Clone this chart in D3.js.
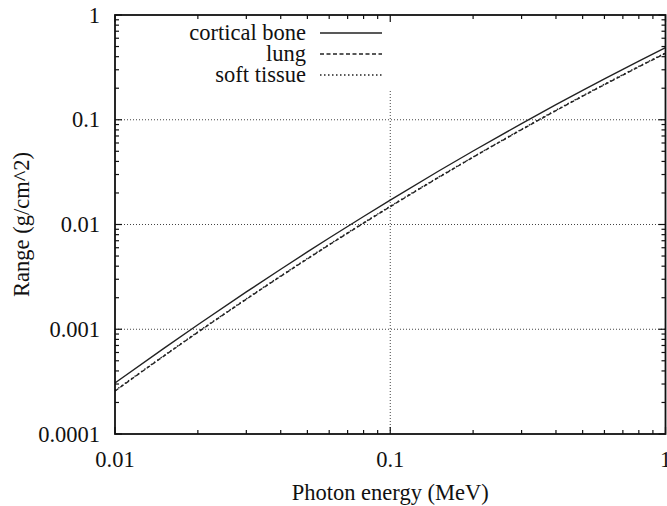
<!DOCTYPE html>
<meta charset="utf-8">
<style>
body { margin: 0; background: #fff; }
svg { font-family: "Liberation Serif", "Times New Roman", serif; }
.axis-label { font-size: 22.5px; fill: #111; }
</style>
<body>
<svg width="667" height="506"></svg>
<script src="https://d3js.org/d3.v7.min.js"></script>
<script>
// photon energy (MeV)
var energy = [0.01, 0.015, 0.02, 0.03, 0.04, 0.05, 0.06, 0.08, 0.1,
              0.15, 0.2, 0.3, 0.4, 0.5, 0.6, 0.8, 1.0];

// range (g/cm^2)
var corticalBone = [3.07e-4, 6.54e-4, 1.104e-3, 2.272e-3, 3.74e-3, 5.47e-3, 7.43e-3, 0.01192, 0.0171,
                    0.0324, 0.0503, 0.0919, 0.1393, 0.1909, 0.2457, 0.3628, 0.4875];
var lung = [2.57e-4, 5.51e-4, 9.35e-4, 1.934e-3, 3.20e-3, 4.69e-3, 6.39e-3, 0.01029, 0.01479,
            0.02814, 0.0438, 0.0804, 0.1222, 0.1677, 0.2162, 0.3200, 0.4305];
var softTissue = [2.60e-4, 5.56e-4, 9.44e-4, 1.953e-3, 3.23e-3, 4.74e-3, 6.45e-3, 0.01039, 0.01494,
                  0.02842, 0.0442, 0.0812, 0.1234, 0.1694, 0.2184, 0.3232, 0.4348];

var seriesNames = ["cortical bone", "lung", "soft tissue"];
var xTicks = [0.01, 0.1, 1];
var yTicks = [0.0001, 0.001, 0.01, 0.1, 1];
var xTickLabels = ["0.01", "0.1", "1"];
var yTickLabels = ["0.0001", "0.001", "0.01", "0.1", "1"];

var svg = d3.select("svg");
var plotLeft = 115, plotRight = 665.5, plotTop = 15, plotBottom = 434;

var x = d3.scaleLog().domain([0.01, 1]).range([plotLeft, plotRight]);
var y = d3.scaleLog().domain([0.0001, 1]).range([plotBottom, plotTop]);

var dashes = [null, "4,2.5", "1.5,2.5"];
var series = [corticalBone, lung, softTissue];

// grid (dotted), vertical one stops below the key
var grid = svg.append("g")
    .attr("stroke", "#444")
    .attr("stroke-width", 1)
    .attr("stroke-dasharray", "1,2");
[0.001, 0.01, 0.1].forEach(function(v) {
  grid.append("line")
      .attr("x1", plotLeft).attr("x2", plotRight)
      .attr("y1", y(v)).attr("y2", y(v));
});
grid.append("line")
    .attr("x1", x(0.1)).attr("x2", x(0.1))
    .attr("y1", plotBottom).attr("y2", 90);

// minor + major ticks on all four sides
function minors(lo, hi) {
  var out = [];
  for (var e = lo; e < hi; e++)
    for (var m = 2; m <= 9; m++) out.push(m * Math.pow(10, e));
  return out;
}
var ticks = svg.append("g").attr("stroke", "#111").attr("stroke-width", 1.2);
minors(-2, 0).forEach(function(v) {
  ticks.append("line").attr("x1", x(v)).attr("x2", x(v)).attr("y1", plotBottom).attr("y2", plotBottom - 4);
  ticks.append("line").attr("x1", x(v)).attr("x2", x(v)).attr("y1", plotTop).attr("y2", plotTop + 4);
});
xTicks.forEach(function(v) {
  ticks.append("line").attr("x1", x(v)).attr("x2", x(v)).attr("y1", plotBottom).attr("y2", plotBottom - 7);
  ticks.append("line").attr("x1", x(v)).attr("x2", x(v)).attr("y1", plotTop).attr("y2", plotTop + 7);
});
minors(-4, 0).forEach(function(v) {
  ticks.append("line").attr("y1", y(v)).attr("y2", y(v)).attr("x1", plotLeft).attr("x2", plotLeft + 4);
  ticks.append("line").attr("y1", y(v)).attr("y2", y(v)).attr("x1", plotRight).attr("x2", plotRight - 4);
});
yTicks.forEach(function(v) {
  ticks.append("line").attr("y1", y(v)).attr("y2", y(v)).attr("x1", plotLeft).attr("x2", plotLeft + 7);
  ticks.append("line").attr("y1", y(v)).attr("y2", y(v)).attr("x1", plotRight).attr("x2", plotRight - 7);
});

// tick labels
svg.append("g").selectAll("text")
  .data(xTicks)
  .enter().append("text")
    .attr("class", "axis-label")
    .attr("x", function(d) { return x(d); })
    .attr("y", 467)
    .attr("text-anchor", "middle")
    .text(function(d, i) { return xTickLabels[i]; });

svg.append("g").selectAll("text")
  .data(yTicks)
  .enter().append("text")
    .attr("class", "axis-label")
    .attr("x", 100)
    .attr("y", function(d) { return y(d) + 7.5; })
    .attr("text-anchor", "end")
    .text(function(d, i) { return yTickLabels[i]; });

// axis titles
svg.append("text")
    .attr("class", "axis-label")
    .attr("x", (plotLeft + plotRight) / 2)
    .attr("y", 500)
    .attr("text-anchor", "middle")
    .text("Photon energy (MeV)");

svg.append("text")
    .attr("class", "axis-label")
    .attr("transform", "translate(29," + ((plotTop + plotBottom) / 2) + ") rotate(-90)")
    .attr("text-anchor", "middle")
    .text("Range (g/cm^2)");

// curves
var line = d3.line()
    .x(function(d) { return x(d[0]); })
    .y(function(d) { return y(d[1]); })
    .curve(d3.curveMonotoneX);

series.forEach(function(s, k) {
  svg.append("path")
      .datum(energy.map(function(e, i) { return [e, s[i]]; }))
      .attr("d", line)
      .attr("fill", "none")
      .attr("stroke", "#222")
      .attr("stroke-width", 1.4)
      .attr("stroke-dasharray", dashes[k]);
});

// key
var key = svg.append("g");
seriesNames.forEach(function(name, k) {
  var ky = 33 + k * 21;
  key.append("text")
      .attr("class", "axis-label")
      .attr("x", 306)
      .attr("y", ky + 7)
      .attr("text-anchor", "end")
      .text(name);
  key.append("line")
      .attr("x1", 320).attr("x2", 382)
      .attr("y1", ky).attr("y2", ky)
      .attr("stroke", "#222")
      .attr("stroke-width", 1.4)
      .attr("stroke-dasharray", dashes[k]);
});

// border
svg.append("rect")
    .attr("x", plotLeft).attr("y", plotTop)
    .attr("width", plotRight - plotLeft).attr("height", plotBottom - plotTop)
    .attr("fill", "none")
    .attr("stroke", "#111")
    .attr("stroke-width", 1.8);
</script>
</body>
